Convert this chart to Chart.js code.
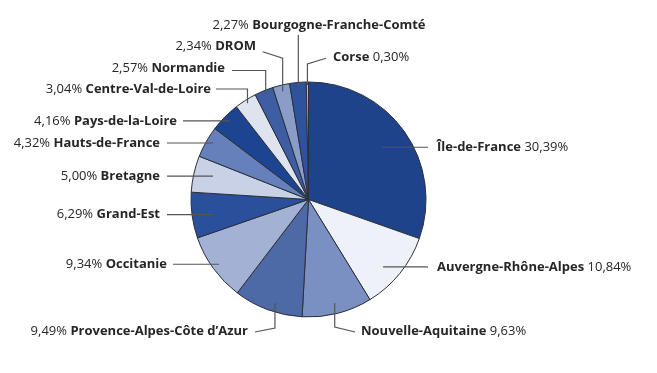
<!DOCTYPE html>
<html>
<head>
<meta charset="utf-8">
<script src="https://cdn.jsdelivr.net/npm/chart.js@4/dist/chart.umd.min.js"></script>
<style>
  html, body { margin: 0; padding: 0; background: #ffffff; }
  #wrap { width: 657px; height: 373px; }
</style>
</head>
<body>
<div id="wrap"><canvas id="c" width="657" height="373"></canvas></div>
<script>
// ---- DATA ----
const regions = [
  "Île-de-France", "Auvergne-Rhône-Alpes", "Nouvelle-Aquitaine",
  "Provence-Alpes-Côte d’Azur", "Occitanie", "Grand-Est", "Bretagne",
  "Hauts-de-France", "Pays-de-la-Loire", "Centre-Val-de-Loire",
  "Normandie", "DROM", "Bourgogne-Franche-Comté", "Corse"
];
const shares = [30.39, 10.84, 9.63, 9.49, 9.34, 6.29, 5.00, 4.32, 4.16, 3.04, 2.57, 2.34, 2.27, 0.30];

// ---- STYLE ----
const sliceColors = [
  "#1e438b", "#eff1f8", "#7b90c2", "#4d6aa6", "#a3b2d4", "#2a4f9b", "#c9d1e6",
  "#6580ba", "#1d4490", "#dfe3ef", "#3d5ea3", "#8a9dc9", "#2e539c", "#b0bcd8"
];

// Label layout (offsets relative to pie centre, in px at the reference radius of 117.5)
// a: position of the leader start across the slice's angular span (0..1)
// f: where the leader starts, as a fraction of the radius
// path: further leader points; null = keep previous coordinate
const REF_R = 117.5;
const labelLayout = [
  { a: 0.5,   f: 0.77,  path: [[119.5, null]],                   tx: 128.5, ty: null,   align: "left" },
  { a: 0.58,  f: 0.855, path: [[119.5, null]],                   tx: 128.5, ty: null,   align: "left" },
  { a: 0.5,   f: 0.909, path: [[null, 127.5], [46.5, 132.5]],    tx: 52.5,  ty: 132,    align: "left" },
  { a: 0.434, f: 0.926, path: [[null, 128.5], [-53.5, 132.5]],   tx: -60.5, ty: 132,    align: "right" },
  { a: 0.5,   f: 0.94,  path: [[-135.5, null]],                  tx: -141.5, ty: null,  align: "right" },
  { a: 0.447, f: 0.823, path: [[-141.5, null]],                  tx: -148.5, ty: null,  align: "right" },
  { a: 0.564, f: 0.837, path: [[-141.5, null]],                  tx: -148.5, ty: null,  align: "right" },
  { a: 0.583, f: 0.943, path: [[-141.5, null]],                  tx: -148.5, ty: null,  align: "right" },
  { a: 0.529, f: 0.945, path: [[-125.5, null]],                  tx: -131.5, ty: null,  align: "right" },
  { a: 0.5,   f: 0.969, path: [[null, -110.5], [-92.5, null]],   tx: -97.5, ty: null,   align: "right" },
  { a: 0.5,   f: 0.96,  path: [[null, -129], [-76.5, null]],     tx: -83.5, ty: -131,   align: "right" },
  { a: 0.5,   f: 0.945, path: [[null, -141.2], [-45.8, -147.8]], tx: -52.5, ty: -153.5, align: "right" },
  { a: 0.5,   f: 0.962, path: [[null, -164.5]],                  tx: 10.5,  ty: -174.5, align: "center" },
  { a: 0.5,   f: 0.975, path: [[null, -135.5], [17.5, -141.2]],  tx: 24.5,  ty: -142.5, align: "left" }
];

const FONT_FAMILY = "'Open Sans', 'Noto Sans', sans-serif";
const FONT_SIZE = 13;
const TEXT_COLOR = "#262626";
const LINE_COLOR = "#555555";

function fmtPct(v) { return v.toFixed(2).replace(".", ",") + "%"; }

const labelPlugin = {
  id: "leaderLabels",
  afterDatasetsDraw(chart) {
    const ctx = chart.ctx;
    const meta = chart.getDatasetMeta(0);
    ctx.save();
    meta.data.forEach((arc, i) => {
      const p = arc.getProps(["x", "y", "startAngle", "endAngle", "outerRadius"], true);
      const r = p.outerRadius;
      const s = r / REF_R;
      const lay = labelLayout[i];
      const ang = p.startAngle + (p.endAngle - p.startAngle) * lay.a;
      let px = p.x + Math.cos(ang) * lay.f * r;
      let py = p.y + Math.sin(ang) * lay.f * r;
      ctx.beginPath();
      ctx.moveTo(px, py);
      lay.path.forEach(pt => {
        if (pt[0] !== null) px = p.x + pt[0] * s;
        if (pt[1] !== null) py = p.y + pt[1] * s;
        ctx.lineTo(px, py);
      });
      ctx.strokeStyle = LINE_COLOR;
      ctx.lineWidth = 1.2;
      ctx.stroke();

      // text
      const name = regions[i];
      const pct = fmtPct(shares[i]);
      const pctFirst = lay.align !== "left";
      const parts = pctFirst
        ? [{ t: pct + " ", bold: false }, { t: name, bold: true }]
        : [{ t: name + " ", bold: true }, { t: pct, bold: false }];
      const fontOf = b => (b ? "bold " : "") + FONT_SIZE + "px " + FONT_FAMILY;
      let total = 0;
      parts.forEach(pt => { ctx.font = fontOf(pt.bold); pt.w = ctx.measureText(pt.t).width; total += pt.w; });
      const ty = lay.ty === null ? py : p.y + lay.ty * s;
      const ax = p.x + lay.tx * s;
      let x0 = lay.align === "left" ? ax : (lay.align === "right" ? ax - total : ax - total / 2);
      ctx.textBaseline = "middle";
      ctx.textAlign = "left";
      ctx.fillStyle = TEXT_COLOR;
      parts.forEach(pt => {
        ctx.font = fontOf(pt.bold);
        ctx.fillText(pt.t, x0, ty);
        x0 += pt.w;
      });
    });
    ctx.restore();
  }
};

new Chart(document.getElementById("c"), {
  type: "pie",
  data: {
    labels: regions,
    datasets: [{
      data: shares,
      backgroundColor: sliceColors,
      borderColor: "#2a2f3a",
      borderWidth: 1
    }]
  },
  options: {
    responsive: false,
    animation: false,
    devicePixelRatio: 1,
    layout: { padding: { top: 81.5, bottom: 55.5, left: 0, right: 40 } },
    plugins: { legend: { display: false }, tooltip: { enabled: false } }
  },
  plugins: [labelPlugin]
});
</script>
</body>
</html>
